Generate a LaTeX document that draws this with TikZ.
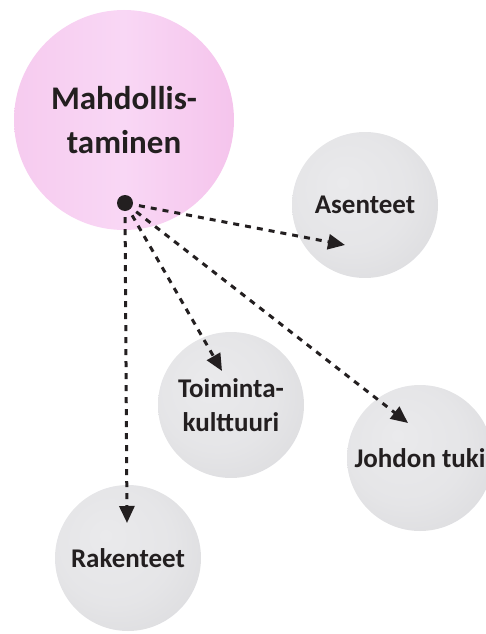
\documentclass[tikz,border=0pt]{standalone}
\usepackage{fontspec}
\setmainfont{Carlito}
\usetikzlibrary{arrows.meta}
\definecolor{txt}{RGB}{35,31,32}
\definecolor{pinkA}{RGB}{246,203,239}
\definecolor{pinkB}{RGB}{249,215,245}
\definecolor{pinkC}{RGB}{245,196,236}
\definecolor{greyIn}{RGB}{234,234,236}
\definecolor{greyOut}{RGB}{210,210,213}
\pgfdeclarehorizontalshading{softpink}{100bp}{%
  color(0bp)=(pinkA); color(25bp)=(pinkA); color(50bp)=(pinkB);
  color(75bp)=(pinkC); color(100bp)=(pinkC)}
\pgfdeclareradialshading{softgrey}{\pgfpoint{-8bp}{8bp}}{%
  color(0bp)=(greyIn); color(20bp)=(greyIn!80!greyOut); color(50bp)=(greyOut)}
\tikzset{
  bubble/.style={circle, minimum size=146pt, inner sep=0pt,
    shading=softgrey, text=txt, align=center,
    font=\bfseries\fontsize{27}{34}\selectfont},
  mainbubble/.style={circle, minimum size=220pt, inner sep=0pt,
    shading=softpink, text=txt, align=center,
    font=\bfseries\fontsize{33}{44}\selectfont},
  link/.style={txt, line width=3pt, dash pattern=on 6pt off 6pt,
    -{Triangle[length=17pt,width=15pt]}, shorten <=6pt}
}
\begin{document}
\begin{tikzpicture}[x=1pt,y=-1pt]
  \useasboundingbox (0,0) rectangle (486,634);
  % main circle and its hub
  \node[mainbubble] (main) at (124,120) {Mahdollis-\\taminen};
  \node[circle, fill=txt, minimum size=16pt, inner sep=0pt] (hub) at (125,203) {};
  % satellite circles
  \node[bubble] (ase) at (365,205) {Asenteet};
  \node[bubble] (toi) at (231,405) {Toiminta-\\kulttuuri};
  \node[bubble] (joh) at (420,458) {Johdon tuki};
  \node[bubble] (rak) at (128,558) {Rakenteet};
  % arrow tips
  \coordinate (tA) at (345,245);
  \coordinate (tT) at (222,371);
  \coordinate (tJ) at (408,423);
  \coordinate (tR) at (127,523);
  % dashed connectors
  \draw[link] (hub) -- (tA);
  \draw[link] (hub) -- (tT);
  \draw[link] (hub) -- (tJ);
  \draw[link] (hub) -- (tR);
\end{tikzpicture}
\end{document}
